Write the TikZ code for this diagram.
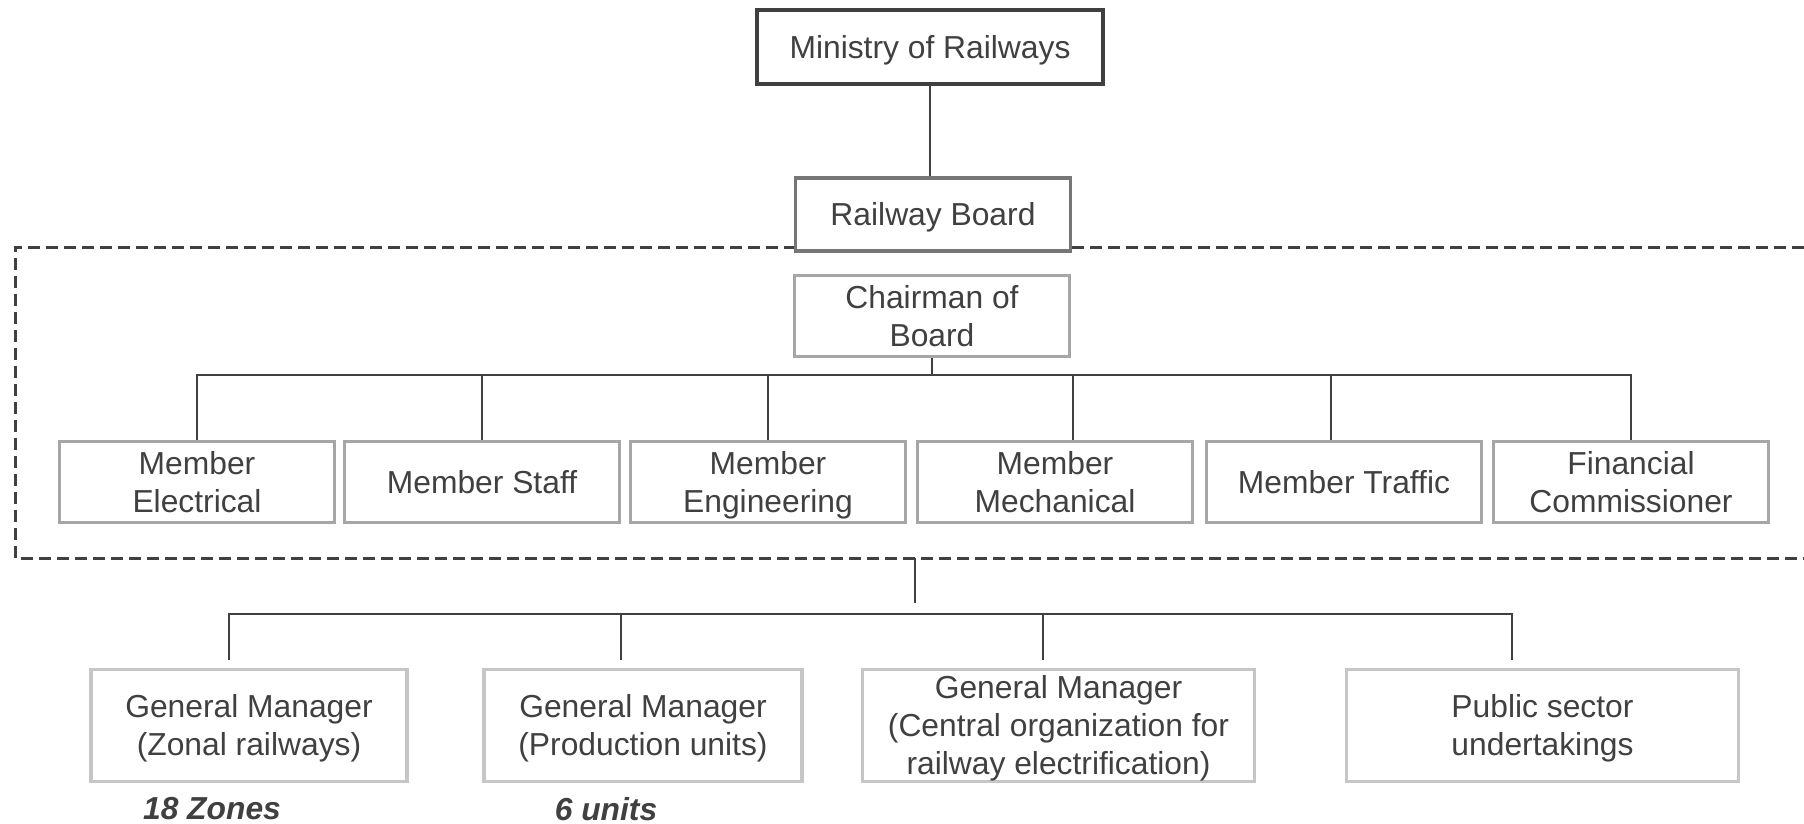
\documentclass[tikz,border=0pt]{standalone}
\usepackage{fontspec}
\setmainfont{Liberation Sans}
\definecolor{txt}{HTML}{404040}
\definecolor{dark}{HTML}{404040}
\definecolor{midgray}{HTML}{767676}
\definecolor{lgray}{HTML}{A6A6A6}
\definecolor{llgray}{HTML}{C6C6C6}
\tikzset{
  box/.style={draw, fill=white, line width=1.6pt, text=txt, align=center,
    inner sep=0pt, font=\fontsize{15.9pt}{19pt}\selectfont},
  oneline/.style={text height=11.4pt, text depth=0pt},
  twoline/.style={text height=30.4pt, text depth=0pt},
  threeline/.style={text height=49.4pt, text depth=0pt},
  topbox/.style={box, draw=dark},
  boardbox/.style={box, draw=midgray},
  memberbox/.style={box, draw=lgray, minimum width=137.5pt, minimum height=40.5pt},
  gmbox/.style={box, draw=llgray, minimum height=56pt},
  conn/.style={draw=dark, line width=0.75pt},
  dashframe/.style={draw=dark, line width=1.5pt, dash pattern=on 6pt off 3pt},
  note/.style={text=txt, inner sep=0pt, font=\fontsize{15.9pt}{19pt}\selectfont\bfseries\itshape}
}
\begin{document}
\begin{tikzpicture}[x=0.5pt,y=-0.5pt]
\useasboundingbox (0,0) rectangle (1804,824);

% dashed frame (open at the right, runs off the picture)
\coordinate (frTR) at (1804,247);
\coordinate (frTL) at (15,247);
\coordinate (frBL) at (15,558);
\coordinate (frBR) at (1804,558);
\draw[dashframe] (frTR) -- (frTL) -- (frBL) -- (frBR);

% top
\node[topbox, oneline, minimum width=173pt, minimum height=37pt] (ministry) at (930,47) {Ministry of Railways};
\node[boardbox, oneline, minimum width=137.5pt, minimum height=36.5pt] (board) at (933,214.5) {Railway Board};
\draw[conn] (ministry.south) -- (ministry.south |- board.north);

\node[memberbox, twoline, minimum height=40.5pt] (chair) at (932,316) {Chairman of\\Board};

% members
\node[memberbox, twoline] (elec) at (197,482) {Member\\Electrical};
\node[memberbox, oneline] (staff) at (482,482) {Member Staff};
\node[memberbox, twoline] (engg) at (768,482) {Member\\Engineering};
\node[memberbox, twoline] (mech) at (1055,482) {Member\\Mechanical};
\node[memberbox, oneline] (traf) at (1344,482) {Member Traffic};
\node[memberbox, twoline] (fin) at (1631,482) {Financial\\Commissioner};

\coordinate (bus) at (933,375);
\draw[conn] (chair.south) -- (chair.south |- bus);
\draw[conn] (elec.north) |- (bus) -| (fin.north);
\draw[conn] (staff.north) -- (staff.north |- bus);
\draw[conn] (engg.north) -- (engg.north |- bus);
\draw[conn] ([xshift=9pt]mech.north) -- ([xshift=9pt]mech.north |- bus);
\draw[conn] ([xshift=-6.5pt]traf.north) -- ([xshift=-6.5pt]traf.north |- bus);

% lower level
\coordinate (frOut) at (915,558);
\coordinate (drop) at (915,603);
\draw[conn] (frOut) -- (drop);

\node[gmbox, twoline, minimum width=158pt] (zonal) at (249,725.5) {General Manager\\(Zonal railways)};
\node[gmbox, twoline, minimum width=159pt] (prod) at (643,725.5) {General Manager\\(Production units)};
\node[gmbox, threeline, minimum width=196pt] (central) at (1058.5,725.5) {General Manager\\(Central organization for\\railway electrification)};
\node[gmbox, twoline, minimum width=196pt] (psu) at (1542.5,725.5) {Public sector\\undertakings};

\coordinate (bus2) at (915,614);
\coordinate (zT) at ([xshift=-10pt,yshift=4pt]zonal.north);
\coordinate (pT) at ([xshift=-11pt,yshift=4pt]prod.north);
\coordinate (cT) at ([xshift=-7.75pt,yshift=4pt]central.north);
\coordinate (uT) at ([xshift=-15.25pt,yshift=4pt]psu.north);
\draw[conn] (zT) |- (bus2) -| (uT);
\draw[conn] (pT) -- (pT |- bus2);
\draw[conn] (cT) -- (cT |- bus2);

\node[note] (zones) at (212,809) {18 Zones};
\node[note] (units) at (606,809) {6 units};
\end{tikzpicture}
\end{document}
